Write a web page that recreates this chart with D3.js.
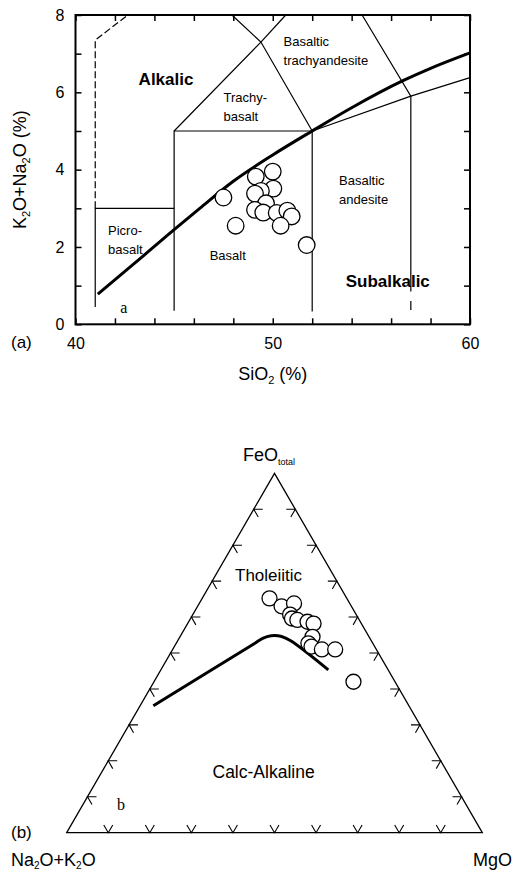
<!DOCTYPE html>
<html>
<head>
<meta charset="utf-8">
<script src="https://cdn.jsdelivr.net/npm/d3@7/dist/d3.min.js"></script>
<style>
   html, body { margin: 0; padding: 0; background: #fff; }
   svg { display: block; font-family: "Liberation Sans", Arial, sans-serif; }
</style>
</head>
<body>
<div id="chart"></div>
<script>

// TAS DIAGRAM DATA (SiO2 %, K2O+Na2O %)
var tasSamples = [
   [47.50, 3.28], [48.12, 2.55], [49.14, 3.82], [50.00, 3.95], [50.03, 3.51],
   [49.40, 3.45], [49.10, 3.38], [49.66, 3.13], [49.10, 2.96], [49.52, 2.89],
   [50.20, 2.88], [50.74, 2.94], [50.96, 2.79], [50.40, 2.55], [51.72, 2.05]
];

// ALKALIC / SUBALKALIC DIVIDE
var tasDivide = [
   [41.13, 0.78], [43, 1.58], [45, 2.45], [46.3, 3.0], [48, 3.7], [50, 4.38],
   [52, 5.0], [54, 5.6], [56.6, 6.3], [58, 6.62], [60, 7.02]
];

// FIELD BOUNDARIES
var tasFields = [
   [[41, 0.45], [41, 3], [45, 3]],
   [[45, 0.35], [45, 5], [52, 5]],
   [[52, 0.33], [52, 5]],
   [[45, 5], [49.4, 7.3], [50.66, 8]],
   [[52, 5], [49.4, 7.3], [47.93, 8]],
   [[57, 0.85], [57, 5.9], [54.53, 8]],
   [[57, 0.37], [57, 0.6]],
   [[52, 5], [57, 5.9], [60, 6.38]]
];
var tasDashed = [[41, 3], [41, 7.35], [42.65, 8]];

// FIELD NAMES
var tasLabels = [
   { lines: ['Alkalic'], x: 43.2, y: 6.2, bold: true },
   { lines: ['Trachy-', 'basalt'], x: 47.5, y: 5.75, bold: false },
   { lines: ['Basaltic', 'trachyandesite'], x: 50.55, y: 7.2, bold: false },
   { lines: ['Picro-', 'basalt'], x: 41.65, y: 2.3, bold: false },
   { lines: ['Basalt'], x: 46.8, y: 1.66, bold: false },
   { lines: ['Basaltic', 'andesite'], x: 53.36, y: 3.6, bold: false },
   { lines: ['Subalkalic'], x: 53.7, y: 0.96, bold: true }
];

var xTicks = [40, 42, 44, 46, 48, 50, 52, 54, 56, 58, 60];
var xLabels = [40, 50, 60];
var yTicks = [0, 1, 2, 3, 4, 5, 6, 7, 8];
var yLabels = [0, 2, 4, 6, 8];

// AFM DIAGRAM DATA (A = Na2O+K2O, F = FeO total, M = MgO)
var afmSamples = [
   [18.6, 65.2, 16.2], [16.8, 63.0, 20.2], [13.4, 63.8, 22.8], [15.9, 60.7, 23.4],
   [16.0, 59.6, 24.4], [14.9, 59.2, 25.9], [12.7, 58.7, 28.6], [11.5, 58.2, 30.3],
   [13.6, 54.5, 31.9], [15.5, 52.7, 31.8], [15.2, 51.8, 33.0], [13.1, 51.0, 35.9],
   [9.9, 51.0, 39.1], [10.0, 42.0, 48.0]
];

// THOLEIITIC / CALC-ALKALINE DIVIDE
var afmDivide = [
   [61.5, 35.3, 3.2], [28.6, 52.6, 18.8], [25.8, 54.1, 20.1], [23.4, 54.8, 21.8],
   [21.0, 54.6, 24.4], [19.4, 53.4, 27.2], [14.4, 45.3, 40.3]
];

var afmTicks = [10, 20, 30, 40, 50, 60, 70, 80, 90];

// CANVAS
var svg = d3.select('#chart').append('svg')
   .attr('width', 513)
   .attr('height', 872);

svg.append('rect')
   .attr('width', 513)
   .attr('height', 872)
   .attr('fill', '#fff');

// ------------------------------------------------------------------
// (a) TAS DIAGRAM
// ------------------------------------------------------------------
var xScale = d3.scaleLinear().domain([40, 60]).range([75.5, 470]);
var yScale = d3.scaleLinear().domain([0, 8]).range([324.3, 15]);

var tas = svg.append('g');

var line = d3.line()
   .x((d) => { return xScale(d[0]) })
   .y((d) => { return yScale(d[1]) });

// FIELD LINES
tas.selectAll('.field')
   .data(tasFields)
   .enter().append('path')
      .attr('d', line)
      .attr('fill', 'none')
      .attr('stroke', '#000')
      .attr('stroke-width', 1.2);

tas.append('path')
   .attr('d', line(tasDashed))
   .attr('fill', 'none')
   .attr('stroke', '#000')
   .attr('stroke-width', 1.2)
   .attr('stroke-dasharray', '7,3');

// DIVIDE
tas.append('path')
   .attr('d', d3.line().curve(d3.curveMonotoneX)
      .x((d) => { return xScale(d[0]) })
      .y((d) => { return yScale(d[1]) })(tasDivide))
   .attr('fill', 'none')
   .attr('stroke', '#000')
   .attr('stroke-width', 3);

// AXES
function styleAxis(g) {
   g.select('.domain').remove();
   g.selectAll('.tick line').attr('stroke', '#000').attr('stroke-width', 1.5);
   g.selectAll('.tick text').attr('fill', '#000').attr('font-size', 16)
      .attr('font-family', '"Liberation Sans", Arial, sans-serif');
}

tas.append('g')
   .attr('transform', 'translate(0,' + yScale(0) + ')')
   .call(d3.axisBottom(xScale).tickValues(xTicks).tickSizeInner(-6).tickSizeOuter(0).tickPadding(13)
      .tickFormat((d) => { return xLabels.indexOf(d) >= 0 ? d : '' }))
   .call(styleAxis);

tas.append('g')
   .attr('transform', 'translate(0,' + yScale(8) + ')')
   .call(d3.axisTop(xScale).tickValues(xTicks).tickSizeInner(-6).tickSizeOuter(0).tickFormat(''))
   .call(styleAxis);

tas.append('g')
   .attr('transform', 'translate(' + xScale(40) + ',0)')
   .call(d3.axisLeft(yScale).tickValues(yTicks).tickSizeInner(-6).tickSizeOuter(0).tickPadding(11)
      .tickFormat((d) => { return yLabels.indexOf(d) >= 0 ? d : '' }))
   .call(styleAxis);

tas.append('g')
   .attr('transform', 'translate(' + xScale(60) + ',0)')
   .call(d3.axisRight(yScale).tickValues(yTicks).tickSizeInner(-6).tickSizeOuter(0).tickFormat(''))
   .call(styleAxis);

// FRAME
tas.append('rect')
   .attr('x', xScale(40))
   .attr('y', yScale(8))
   .attr('width', xScale(60) - xScale(40))
   .attr('height', yScale(0) - yScale(8))
   .attr('fill', 'none')
   .attr('stroke', '#000')
   .attr('stroke-width', 2);

// SAMPLES
tas.selectAll('.sample')
   .data(tasSamples)
   .enter().append('circle')
      .attr('cx', (d) => { return xScale(d[0]) })
      .attr('cy', (d) => { return yScale(d[1]) })
      .attr('r', 8.3)
      .attr('fill', '#fff')
      .attr('stroke', '#000')
      .attr('stroke-width', 1.3);

// FIELD NAMES
tasLabels.forEach((lab) => {
   var t = tas.append('text')
      .attr('x', xScale(lab.x))
      .attr('y', yScale(lab.y))
      .attr('font-size', lab.bold ? 17 : 13)
      .attr('font-weight', lab.bold ? 'bold' : 'normal')
      .attr('fill', '#000');
   lab.lines.forEach((s, i) => {
      t.append('tspan')
         .attr('x', xScale(lab.x))
         .attr('dy', i == 0 ? 0 : 19)
         .text(s);
   });
});

tas.append('text')
   .attr('x', xScale(42.45))
   .attr('y', yScale(0.3))
   .attr('text-anchor', 'middle')
   .attr('font-family', '"Liberation Serif", serif')
   .attr('font-size', 16)
   .text('a');

tas.append('text')
   .attr('x', 11)
   .attr('y', 347.5)
   .attr('font-size', 17)
   .text('(a)');

// AXIS TITLES
var xt = tas.append('text')
   .attr('x', xScale(50))
   .attr('y', 379.5)
   .attr('text-anchor', 'middle')
   .attr('font-size', 18);
xt.append('tspan').text('SiO');
xt.append('tspan').attr('font-size', 11).attr('dy', 4).text('2');
xt.append('tspan').attr('dy', -4).text(' (%)');

var yt = tas.append('text')
   .attr('transform', 'translate(25.5,' + yScale(4) + ') rotate(-90)')
   .attr('text-anchor', 'middle')
   .attr('font-size', 18);
yt.append('tspan').text('K');
yt.append('tspan').attr('font-size', 11).attr('dy', 4).text('2');
yt.append('tspan').attr('dy', -4).text('O+Na');
yt.append('tspan').attr('font-size', 11).attr('dy', 4).text('2');
yt.append('tspan').attr('dy', -4).text('O (%)');

// ------------------------------------------------------------------
// (b) AFM DIAGRAM
// ------------------------------------------------------------------
var tx = d3.scaleLinear().domain([0, 100]).range([66.7, 482.3]);
var ty = d3.scaleLinear().domain([0, 100]).range([832.7, 473.3]);

// TERNARY -> SCREEN
function project(d) {
   var sum = d[0] + d[1] + d[2];
   var f = d[1] / sum * 100;
   var m = d[2] / sum * 100;
   return [tx(m + f / 2), ty(f)];
}

var afm = svg.append('g');

// TRIANGLE
afm.append('path')
   .attr('d', d3.line()([project([100, 0, 0]), project([0, 100, 0]), project([0, 0, 100])]) + 'Z')
   .attr('fill', 'none')
   .attr('stroke', '#000')
   .attr('stroke-width', 1.3);

// EDGE TICKS
var arm = 9;
var c60 = 0.5, s60 = Math.sqrt(3) / 2;
var tickPaths = [];
afmTicks.forEach((t) => {
   // BOTTOM EDGE (A-M)
   var p = project([100 - t, 0, t]);
   tickPaths.push([[p[0] - c60 * arm, p[1] - s60 * arm], p, [p[0] + c60 * arm, p[1] - s60 * arm]]);
   // LEFT EDGE (A-F)
   p = project([100 - t, t, 0]);
   tickPaths.push([[p[0] + arm, p[1]], p, [p[0] + c60 * arm, p[1] + s60 * arm]]);
   // RIGHT EDGE (F-M)
   p = project([0, t, 100 - t]);
   tickPaths.push([[p[0] - arm, p[1]], p, [p[0] - c60 * arm, p[1] + s60 * arm]]);
});

afm.selectAll('.tick')
   .data(tickPaths)
   .enter().append('path')
      .attr('d', d3.line())
      .attr('fill', 'none')
      .attr('stroke', '#000')
      .attr('stroke-width', 1.1);

// DIVIDE
afm.append('path')
   .attr('d', d3.line().curve(d3.curveCatmullRom.alpha(0.5))(afmDivide.map(project)))
   .attr('fill', 'none')
   .attr('stroke', '#000')
   .attr('stroke-width', 3);

// SAMPLES
afm.selectAll('.sample')
   .data(afmSamples)
   .enter().append('circle')
      .attr('cx', (d) => { return project(d)[0] })
      .attr('cy', (d) => { return project(d)[1] })
      .attr('r', 7.5)
      .attr('fill', '#fff')
      .attr('stroke', '#000')
      .attr('stroke-width', 1.3);

// LABELS
var fe = afm.append('text')
   .attr('x', 243)
   .attr('y', 461)
   .attr('font-size', 18);
fe.append('tspan').text('FeO');
fe.append('tspan').attr('font-size', 9).attr('dy', 4).text('total');

var na = afm.append('text')
   .attr('x', 11)
   .attr('y', 866)
   .attr('font-size', 18);
na.append('tspan').text('Na');
na.append('tspan').attr('font-size', 10).attr('dy', 3).text('2');
na.append('tspan').attr('dy', -3).text('O+K');
na.append('tspan').attr('font-size', 10).attr('dy', 3).text('2');
na.append('tspan').attr('dy', -3).text('O');

afm.append('text')
   .attr('x', 473)
   .attr('y', 866)
   .attr('font-size', 18)
   .text('MgO');

afm.append('text')
   .attr('x', 235)
   .attr('y', 581)
   .attr('font-size', 17)
   .text('Tholeiitic');

afm.append('text')
   .attr('x', 212.5)
   .attr('y', 778)
   .attr('font-size', 17.5)
   .text('Calc-Alkaline');

afm.append('text')
   .attr('x', 121)
   .attr('y', 810)
   .attr('text-anchor', 'middle')
   .attr('font-family', '"Liberation Serif", serif')
   .attr('font-size', 16)
   .text('b');

afm.append('text')
   .attr('x', 11)
   .attr('y', 837.5)
   .attr('font-size', 17)
   .text('(b)');

</script>
</body>
</html>
